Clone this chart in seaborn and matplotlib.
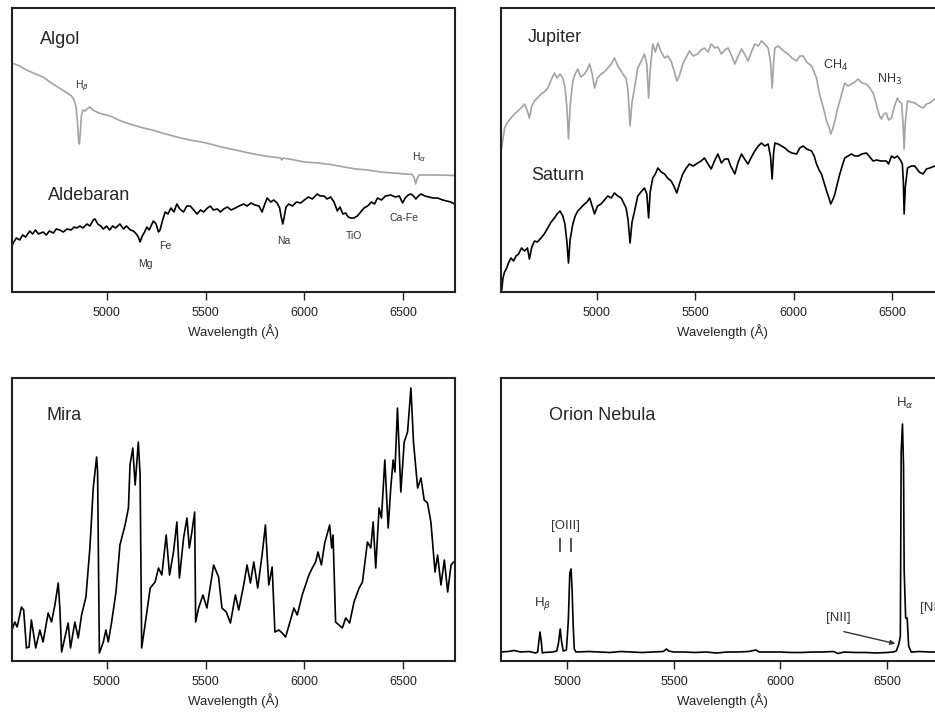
import numpy as np
import pandas as pd
import seaborn as sns
import matplotlib
matplotlib.use("Agg")
import matplotlib.pyplot as plt

# ---- Data (relative flux) ----
algol_wl = [4521, 4560, 4594, 4640, 4678, 4720, 4760, 4800, 4822, 4835, 4845, 4852, 4858,
            4862, 4866, 4872, 4880, 4890, 4900, 4915, 4930, 4960, 5017, 5060, 5100, 5150,
            5186, 5230, 5280, 5355, 5420, 5480, 5524, 5580, 5651, 5720, 5800, 5879, 5885,
            5892, 5950, 6000, 6070, 6133, 6200, 6260, 6320, 6387, 6450, 6510, 6545, 6556,
            6563, 6570, 6580, 6620, 6680, 6759]
algol_fx = [229, 226, 222, 218, 215, 209, 204, 199, 196, 192, 185, 170, 152,
            148, 158, 176, 182, 181, 183, 185, 182, 179, 176, 172, 169, 166,
            164, 162, 159, 155, 152, 150, 148, 145, 142, 139, 136, 134, 132,
            134, 132, 130, 129, 127.5, 125, 123, 122, 120, 119, 118, 117.5, 114,
            108, 113, 117, 117, 117, 116.5]

aldeb_wl = [4521, 4530, 4543, 4560, 4575, 4590, 4611, 4625, 4640, 4655, 4678, 4695, 4710,
            4730, 4745, 4763, 4780, 4800, 4820, 4835, 4848, 4865, 4880, 4900, 4915, 4932,
            4941, 4955, 4970, 4983, 5000, 5015, 5030, 5045, 5067, 5085, 5100, 5120, 5135,
            5150, 5160, 5169, 5180, 5192, 5203, 5215, 5236, 5250, 5262, 5270, 5283, 5296,
            5310, 5325, 5340, 5355, 5370, 5389, 5405, 5423, 5440, 5457, 5475, 5490, 5510,
            5524, 5540, 5560, 5575, 5592, 5610, 5630, 5651, 5670, 5693, 5710, 5730, 5750,
            5770, 5786, 5800, 5812, 5830, 5845, 5862, 5875, 5883, 5891, 5898, 5907, 5921,
            5940, 5960, 5981, 6000, 6020, 6040, 6065, 6080, 6100, 6115, 6133, 6150, 6167,
            6180, 6195, 6209, 6222, 6234, 6250, 6268, 6285, 6302, 6320, 6340, 6355, 6370,
            6390, 6410, 6437, 6460, 6480, 6497, 6510, 6525, 6539, 6552, 6564, 6577, 6590,
            6610, 6630, 6650, 6674, 6700, 6720, 6740, 6759]
aldeb_fx = [46, 50, 54, 52, 57, 55, 61, 58, 62, 58, 60, 57, 61,
            59, 63, 62, 60, 63, 62, 65, 64, 66, 64, 68, 66, 72,
            73, 68, 66, 63, 66, 62, 66, 64, 68, 63, 66, 62, 61,
            58, 55, 50, 56, 60, 65, 62, 71, 68, 60, 62, 72, 80,
            78, 84, 80, 88, 83, 80, 86, 86, 82, 78, 82, 80, 84,
            86, 82, 83, 80, 83, 85, 82, 84, 86, 88, 86, 89, 87,
            86, 80, 88, 94, 90, 92, 89, 84, 75, 68, 75, 85, 88,
            86, 90, 89, 92, 95, 93, 98, 96, 96, 93, 95, 90, 81,
            85, 78, 79, 75, 74, 74, 76, 80, 84, 86, 90, 88, 94,
            92, 96, 97, 95, 96, 89, 94, 97, 98, 96, 93, 96, 98,
            96, 95, 94, 94, 92, 91, 90, 88]

jup_wl = [4520, 4534, 4550, 4567, 4585, 4601, 4618, 4635, 4648, 4660, 4672, 4686, 4700,
          4719, 4735, 4753, 4770, 4787, 4800, 4815, 4829, 4840, 4850, 4858, 4866, 4880,
          4892, 4905, 4920, 4939, 4952, 4965, 4978, 4990, 5005, 5023, 5040, 5057, 5075,
          5091, 5108, 5125, 5140, 5150, 5160, 5170, 5180, 5193, 5209, 5225, 5243, 5255,
          5264, 5272, 5285, 5298, 5311, 5328, 5345, 5360, 5378, 5392, 5407, 5420, 5437,
          5455, 5471, 5490, 5513, 5530, 5547, 5565, 5581, 5600, 5615, 5633, 5650, 5667,
          5685, 5701, 5718, 5735, 5750, 5768, 5785, 5802, 5820, 5836, 5853, 5870, 5882,
          5890, 5897, 5904, 5920, 5938, 5955, 5971, 5990, 6014, 6030, 6047, 6065, 6090,
          6103, 6115, 6128, 6140, 6155, 6166, 6178, 6187, 6197, 6208, 6220, 6233, 6245,
          6258, 6275, 6292, 6310, 6326, 6345, 6368, 6385, 6402, 6415, 6427, 6435, 6444,
          6455, 6469, 6480, 6495, 6510, 6525, 6536, 6546, 6553, 6559, 6565, 6576, 6595,
          6613, 6635, 6655, 6672, 6689, 6714, 6740, 6761]
jup_fx = [144, 164, 170, 174, 178, 181, 184, 188, 182, 174, 186, 191, 194,
          198, 200, 204, 212, 219, 214, 218, 214, 205, 185, 153, 185, 211,
          218, 223, 215, 218, 222, 228, 218, 204, 214, 218, 220, 224, 228,
          234, 226, 221, 216, 214, 200, 166, 190, 204, 224, 230, 238, 228,
          194, 222, 248, 240, 249, 240, 234, 236, 231, 222, 211, 216, 228,
          235, 241, 236, 238, 242, 244, 240, 248, 244, 245, 238, 242, 244,
          236, 228, 236, 243, 238, 231, 240, 248, 246, 251, 248, 244, 230,
          204, 228, 244, 246, 243, 240, 238, 234, 231, 236, 236, 230, 226,
          220, 214, 200, 191, 180, 171, 165, 158, 163, 171, 182, 191, 200,
          209, 206, 208, 210, 213, 209, 208, 204, 199, 190, 181, 176, 173,
          178, 179, 172, 174, 186, 194, 190, 189, 170, 143, 170, 191, 190,
          189, 186, 184, 188, 189, 193, 194, 195]

sat_wl = [4520, 4526, 4534, 4545, 4556, 4567, 4580, 4592, 4605, 4620, 4635, 4650, 4660,
          4672, 4686, 4700, 4719, 4735, 4753, 4770, 4787, 4800, 4815, 4829, 4840, 4850,
          4858, 4866, 4880, 4892, 4905, 4920, 4939, 4952, 4965, 4978, 4990, 5005, 5023,
          5040, 5057, 5075, 5091, 5108, 5125, 5140, 5150, 5160, 5170, 5180, 5193, 5209,
          5225, 5243, 5255, 5264, 5272, 5285, 5298, 5311, 5328, 5345, 5360, 5378, 5392,
          5407, 5420, 5437, 5455, 5471, 5490, 5513, 5530, 5547, 5565, 5581, 5600, 5615,
          5633, 5650, 5667, 5680, 5701, 5718, 5735, 5750, 5768, 5785, 5802, 5820, 5836,
          5853, 5870, 5882, 5890, 5897, 5904, 5920, 5938, 5955, 5971, 5990, 6014, 6030,
          6047, 6065, 6090, 6103, 6115, 6128, 6140, 6155, 6166, 6178, 6187, 6197, 6208,
          6220, 6233, 6245, 6258, 6275, 6292, 6310, 6326, 6345, 6368, 6385, 6402, 6420,
          6440, 6469, 6480, 6495, 6510, 6525, 6540, 6550, 6555, 6559, 6565, 6576, 6595,
          6613, 6635, 6655, 6672, 6689, 6714, 6740, 6761]
sat_fx = [2, 14, 20, 24, 30, 34, 31, 36, 38, 44, 41, 44, 33,
          45, 51, 50, 54, 58, 64, 70, 74, 78, 81, 76, 68, 50,
          29, 52, 68, 76, 81, 84, 88, 90, 94, 86, 78, 86, 88,
          92, 96, 94, 99, 96, 94, 88, 84, 72, 49, 70, 81, 96,
          100, 104, 98, 74, 100, 114, 118, 124, 120, 118, 114, 111, 106,
          99, 108, 118, 124, 128, 126, 129, 131, 134, 128, 123, 132, 138,
          129, 133, 133, 126, 118, 130, 138, 133, 128, 135, 141, 146, 149,
          146, 148, 135, 113, 138, 149, 148, 146, 144, 141, 139, 138, 144,
          146, 143, 141, 136, 128, 122, 118, 108, 101, 94, 88, 92, 98,
          108, 118, 126, 134, 136, 138, 136, 136, 138, 139, 135, 131, 132,
          131, 131, 128, 136, 134, 136, 132, 128, 110, 78, 105, 124, 126,
          126, 120, 118, 123, 124, 126, 128, 130]

mira_wl = [4521, 4535, 4547, 4569, 4580, 4594, 4607, 4619, 4631, 4641, 4662, 4678, 4704,
           4721, 4738, 4755, 4763, 4772, 4788, 4805, 4817, 4839, 4856, 4873, 4895, 4915,
           4932, 4949, 4954, 4963, 4983, 4996, 5008, 5025, 5047, 5067, 5093, 5110, 5118,
           5132, 5144, 5160, 5169, 5177, 5194, 5220, 5245, 5262, 5279, 5301, 5318, 5338,
           5355, 5368, 5389, 5406, 5418, 5431, 5445, 5450, 5465, 5487, 5507, 5541, 5566,
           5583, 5605, 5626, 5651, 5668, 5693, 5710, 5727, 5744, 5764, 5786, 5803, 5820,
           5837, 5851, 5871, 5888, 5905, 5930, 5947, 5964, 5989, 6001, 6023, 6040, 6057,
           6069, 6086, 6103, 6128, 6138, 6145, 6158, 6175, 6192, 6209, 6229, 6251, 6277,
           6294, 6319, 6336, 6348, 6361, 6378, 6390, 6407, 6424, 6437, 6449, 6458, 6471,
           6488, 6505, 6522, 6539, 6552, 6573, 6590, 6606, 6623, 6640, 6661, 6674, 6691,
           6708, 6725, 6742, 6755]
mira_fx = [31, 39, 34, 54, 51, 13, 14, 41, 26, 13, 31, 19, 48,
           39, 56, 78, 53, 9, 23, 38, 13, 39, 23, 46, 64, 113,
           173, 204, 189, 8, 19, 31, 19, 39, 69, 116, 136, 153, 196,
           213, 176, 219, 186, 13, 36, 73, 79, 93, 86, 126, 86, 109,
           139, 83, 123, 143, 113, 129, 149, 39, 53, 66, 53, 96, 84,
           53, 49, 38, 66, 51, 76, 96, 78, 99, 73, 106, 136, 76,
           94, 29, 31, 28, 24, 41, 53, 46, 66, 73, 86, 93, 99,
           109, 96, 118, 136, 113, 126, 39, 36, 33, 43, 38, 59, 73,
           79, 119, 113, 139, 93, 153, 143, 201, 133, 173, 201, 189, 253,
           169, 219, 229, 273, 219, 173, 183, 161, 158, 139, 89, 106, 76,
           101, 69, 96, 99]

orion_wl = [4688, 4720, 4750, 4780, 4820, 4850, 4860, 4865, 4871, 4877, 4882, 4890, 4930,
            4950, 4958, 4966, 4972, 4980, 4995, 5004, 5011, 5017, 5022, 5027, 5032, 5040,
            5100, 5150, 5200, 5250, 5300, 5350, 5400, 5450, 5465, 5475, 5500, 5550, 5600,
            5650, 5700, 5750, 5800, 5850, 5885, 5900, 5950, 6000, 6050, 6100, 6150, 6200,
            6250, 6270, 6300, 6350, 6400, 6450, 6500, 6530, 6544, 6556, 6563, 6567, 6573,
            6578, 6581, 6588, 6595, 6602, 6614, 6620, 6650, 6700, 6768]
orion_fx = [9, 9.5, 10.5, 9, 9.5, 8, 9, 18, 29, 20, 8, 8.5, 9,
            10, 18, 32, 20, 10, 11, 40, 88, 92, 70, 35, 12, 9,
            9.5, 9, 8.5, 9.5, 9, 8.5, 9, 9.5, 12, 10, 9, 9, 8.5,
            9, 8, 9, 9, 9.5, 11, 9, 9, 9, 8.5, 8.5, 9, 9,
            9.5, 7.5, 9, 8.5, 8.5, 8, 8.5, 9, 10, 17, 25, 210, 237,
            195, 90, 43, 43, 15, 9, 9, 9.5, 9, 9]

ticks = [5000, 5500, 6000, 6500]
GRAY = "#a3a3a3"

sns.set_style("white")
plt.rcParams["font.family"] = ["Liberation Sans", "DejaVu Sans"]

W, H = 935, 715
fig = plt.figure(figsize=(W / 100, H / 100), dpi=100)


def make_ax(left, top, bottom, width=443):
    return fig.add_axes([left / W, 1 - bottom / H, width / W, (bottom - top) / H])


def style(ax, xlim, ylim):
    ax.set_xlim(*xlim)
    ax.set_ylim(*ylim)
    ax.set_yticks([])
    ax.set_xticks(ticks)
    ax.tick_params(axis="x", direction="out", length=5.5, width=1, labelsize=9,
                   pad=5, bottom=True, colors="#222222")
    ax.set_xlabel("Wavelength (Å)", fontsize=9.5, labelpad=4, color="#222222")
    ax.set_ylabel("")
    for s in ax.spines.values():
        s.set_linewidth(1.5)
        s.set_color("#222222")


def spec(ax, wl, fx, color):
    df = pd.DataFrame({"wl": wl, "fx": fx})
    sns.lineplot(data=df, x="wl", y="fx", ax=ax, color=color, lw=1.2,
                 estimator=None, legend=False)


# Algol / Aldebaran
ax1 = make_ax(12, 8, 292)
spec(ax1, algol_wl, algol_fx, GRAY)
spec(ax1, aldeb_wl, aldeb_fx, "black")
style(ax1, (4521, 6762), (0, 284))
ax1.text(4662, 252, "Algol", fontsize=13, va="center")
ax1.text(4702, 97, "Aldebaran", fontsize=13, va="center")
small = dict(fontsize=7.5, ha="center", va="center", color="#333333")
ax1.text(4875, 206, r"H$_\beta$", **small)
ax1.text(6579, 135, r"H$_\alpha$", **small)
ax1.text(5194, 28, "Mg", **small)
ax1.text(5296, 46, "Fe", **small)
ax1.text(5895, 51, "Na", **small)
ax1.text(6250, 56, "TiO", **small)
ax1.text(6504, 74, "Ca-Fe", **small)

# Jupiter / Saturn
ax2 = make_ax(501, 8, 292)
spec(ax2, jup_wl, jup_fx, GRAY)
spec(ax2, sat_wl, sat_fx, "black")
style(ax2, (4516, 6761), (0, 284))
ax2.text(4652, 254, "Jupiter", fontsize=13, va="center")
ax2.text(4667, 116, "Saturn", fontsize=13, va="center")
ax2.text(6146, 227, r"CH$_4$", fontsize=9, va="center", color="#333333")
ax2.text(6421, 213, r"NH$_3$", fontsize=9, va="center", color="#333333")

# Mira
ax3 = make_ax(12, 377.5, 661)
spec(ax3, mira_wl, mira_fx, "black")
style(ax3, (4521, 6762), (0, 283.5))
ax3.text(4696, 246, "Mira", fontsize=13, va="center")

# Orion Nebula
ax4 = make_ax(501, 377.5, 661)
spec(ax4, orion_wl, orion_fx, "black")
style(ax4, (4688, 6768), (0, 283.5))
ax4.text(4912, 246, "Orion Nebula", fontsize=13, va="center")
lab = dict(fontsize=9.5, ha="center", va="center", color="#333333")
ax4.text(6585, 258, r"H$_\alpha$", **lab)
ax4.text(4885, 58, r"H$_\beta$", **lab)
ax4.text(4989, 134.5, "[OIII]", **lab)
ax4.vlines([4967, 5019], 109, 123, color="#333333", lw=1.2)
ax4.text(6271, 43, "[NII]", **lab)
ax4.text(6653, 53, "[NII]", fontsize=9.5, ha="left", va="center", color="#333333")
ax4.annotate("", xy=(6552, 16.7), xytext=(6285, 30),
             arrowprops=dict(arrowstyle="-|>", color="#333333", lw=1, mutation_scale=7))

fig.savefig("out.png", dpi=100)
